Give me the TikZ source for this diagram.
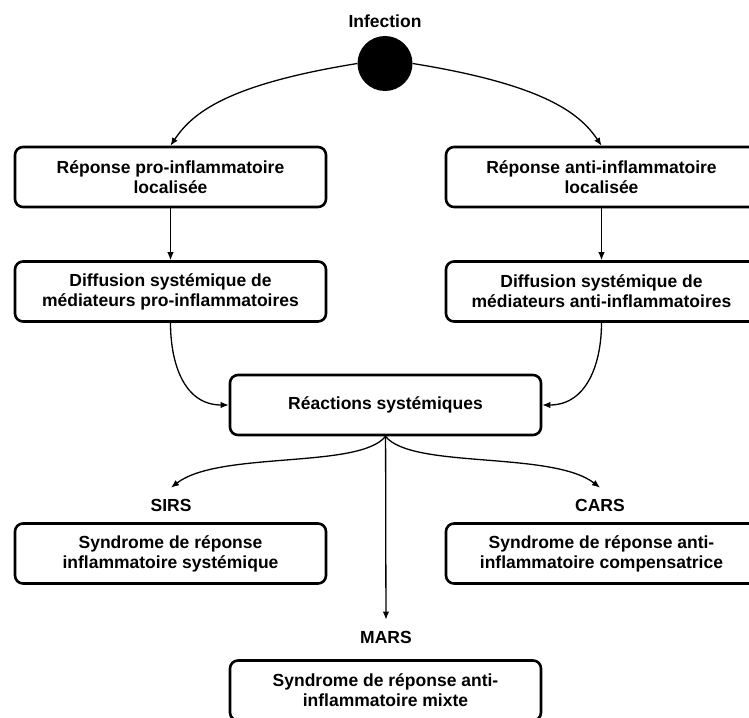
\documentclass[tikz,border=0pt]{standalone}
\usepackage{fontspec}
\setmainfont{Liberation Sans}
\usetikzlibrary{arrows.meta}
\begin{document}
\begin{tikzpicture}[x=1pt,y=-1pt,line join=round,>={Latex[length=8pt,width=6.5pt]},
  boite/.style={draw,line width=2.6pt,rounded corners=8pt,minimum width=311pt,minimum height=60pt,align=center,font=\bfseries\fontsize{17.5}{20}\selectfont},
  etiq/.style={inner ysep=11pt,font=\bfseries\fontsize{17.5}{20}\selectfont},
  fleche/.style={->,line width=1.3pt}]
\useasboundingbox (0,0) rectangle (749,717);

\node[etiq] (infection) at (385,21) {Infection};
\node[circle,fill=black,minimum size=55pt,inner sep=0pt] (foyer) at (385,63.5) {};

\node[boite] (proLoc) at (170.5,177) {Réponse pro-inflammatoire\\localisée};
\node[boite] (antiLoc) at (601.5,177) {Réponse anti-inflammatoire\\localisée};
\node[boite] (proDif) at (170.5,291.5) {Diffusion systémique de\\médiateurs pro-inflammatoires};
\node[boite] (antiDif) at (601.5,291.5) {Diffusion systémique de\\médiateurs anti-inflammatoires};
\node[boite] (reac) at (385.5,405) {Réactions systémiques};

\node[etiq] (sirs) at (171,505) {SIRS};
\node[etiq] (cars) at (600,505) {CARS};
\node[etiq] (mars) at (386,637) {MARS};
\node[boite] (sirsBox) at (170.5,553.5) {Syndrome de réponse\\inflammatoire systémique};
\node[boite] (carsBox) at (601.5,553.5) {Syndrome de réponse anti-\\inflammatoire compensatrice};
\node[boite] (marsBox) at (385.5,690.5) {Syndrome de réponse anti-\\inflammatoire mixte};

\draw[fleche] (foyer.west) .. controls +(-130,21) and +(22,-33) .. (proLoc.north);
\draw[fleche] (foyer.east) .. controls +(130,21) and +(-22,-33) .. (antiLoc.north);
\draw[fleche] (proLoc) -- (proDif);
\draw[fleche] (antiLoc) -- (antiDif);
\draw[fleche] (proDif.south) .. controls +(0,40) and +(-45,0) .. (reac.west);
\draw[fleche] (antiDif.south) .. controls +(0,40) and +(45,0) .. (reac.east);
\draw[fleche] (reac.south) .. controls +(-26,33) and +(48,-37) .. (sirs.north);
\draw[fleche] (reac.south) .. controls +(26,33) and +(-48,-37) .. (cars.north);
\draw[fleche] (reac) -- (mars);
\end{tikzpicture}
\end{document}
